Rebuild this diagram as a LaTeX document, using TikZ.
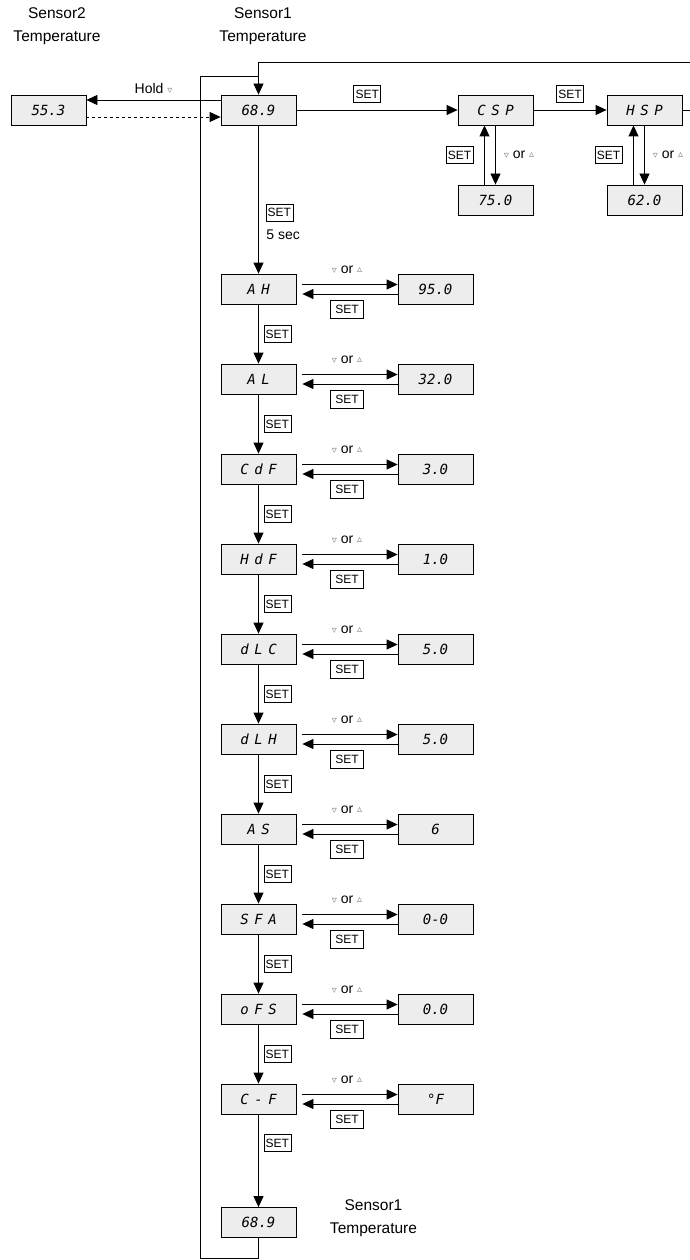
\documentclass[tikz,border=0pt]{standalone}
\usepackage{fontspec}
\setmainfont{Liberation Sans}
\newfontfamily\segfont{DejaVu Sans Mono}
\newfontfamily\segcode{DejaVu Sans Mono}[LetterSpace=40]
\newfontfamily\symfont{DejaVu Sans}
\usetikzlibrary{arrows.meta}
\usetikzlibrary{calc}
\usetikzlibrary{positioning}

\newcommand{\keydn}{{\symfont\fontsize{10}{10}\selectfont\color{gray}▿}}
\newcommand{\keyupp}{{\symfont\fontsize{10}{10}\selectfont\color{gray}\raisebox{1.5pt}{▵}}}
\newcommand{\orkeys}{\keydn\ or \keyupp}

\begin{document}
\begin{tikzpicture}[x=1pt, y=1pt, thick, node distance=90pt,
    disp/.style = {draw, fill=black!7, minimum width=75pt, minimum height=30pt, inner sep=0pt, font=\segfont\itshape\fontsize{14}{14}\selectfont},
    code/.style = {disp, font=\segcode\itshape\fontsize{14}{14}\selectfont},
    setkey/.style = {draw, fill=white, minimum width=27pt, minimum height=17pt, inner sep=0pt, font=\fontsize{12}{12}\selectfont},
    setkeyw/.style = {setkey, minimum width=33pt, minimum height=18pt},
    lbl/.style = {inner sep=1pt, font=\fontsize{14}{14}\selectfont},
    title/.style = {align=center, inner sep=0pt, font=\fontsize{15.5}{23}\selectfont},
    arr/.style = {-{Triangle[length=11pt, width=10pt]}},
    revarr/.style = {{Triangle[length=11pt, width=10pt]}-}]
    \useasboundingbox (0,0) rectangle (690,-1260);
    % titles
    \node[title] (s2t) at (57,-26.5) {Sensor2\\Temperature};
    \node[title] (s1t) at (263,-26.5) {Sensor1\\Temperature};
    \node[title] (s1b) at (373.5,-1218) {Sensor1\\Temperature};
    % top row
    \node[disp] (top) at (258.5,-110) {68.9};
    \node[disp] (s2) at (48.5,-110) {55.3};
    \node[code] (csp) at (495.5,-110) {CSP};
    \node[code] (hsp) at (644.5,-110) {HSP};
    \node[disp] (cspv) at (495.5,-200) {75.0};
    \node[disp] (hspv) at (644.5,-200) {62.0};
    % menu column
    \node[code] (ah) at (258.5,-289) {AH};
    \node[code] (al) [below of = ah] {AL};
    \node[code] (cdf) [below of = al] {CdF};
    \node[code] (hdf) [below of = cdf] {HdF};
    \node[code] (dlc) [below of = hdf] {dLC};
    \node[code] (dlh) [below of = dlc] {dLH};
    \node[code] (as) [below of = dlh] {AS};
    \node[code] (sfa) [below of = as] {SFA};
    \node[code] (ofs) [below of = sfa] {oFS};
    \node[code] (cf) [below of = ofs] {C-F};
    \node[disp] (bot) [node distance=123.5pt, below of = cf] {68.9};
    % values
    \node[disp] (ahv) [node distance=177pt, right of = ah] {95.0};
    \node[disp] (alv) [node distance=177pt, right of = al] {32.0};
    \node[disp] (cdfv) [node distance=177pt, right of = cdf] {3.0};
    \node[disp] (hdfv) [node distance=177pt, right of = hdf] {1.0};
    \node[disp] (dlcv) [node distance=177pt, right of = dlc] {5.0};
    \node[disp] (dlhv) [node distance=177pt, right of = dlh] {5.0};
    \node[disp] (asv) [node distance=177pt, right of = as] {6};
    \node[disp] (sfav) [node distance=177pt, right of = sfa] {0-0};
    \node[disp] (ofsv) [node distance=177pt, right of = ofs] {0.0};
    \node[disp] (cfv) [node distance=177pt, right of = cf] {°F};
    % hold
    \draw[arr] ([yshift=10pt]top.west) -- ([yshift=10pt]s2.east) node[lbl, midway, above=5pt] {Hold \keydn};
    \draw[arr, dashed] ([yshift=-7pt]s2.east) -- ([yshift=-7pt]top.west);
    % set points
    \draw[arr] (top) -- (csp) node[setkey, pos=.44, above=7pt] {SET};
    \draw[arr] (csp) -- (hsp) node[setkey, midway, above=7pt] {SET};
    \draw[arr] (csp) -- (cspv) node[lbl, midway, right=7pt] {\orkeys};
    \draw[arr] ([xshift=-11pt]cspv.north) -- ([xshift=-11pt]csp.south) node[setkey, midway, left=11pt] {SET};
    \draw[arr] (hsp) -- (hspv) node[lbl, midway, right=7pt] {\orkeys};
    \draw[arr] ([xshift=-11pt]hspv.north) -- ([xshift=-11pt]hsp.south) node[setkey, midway, left=11pt] {SET};
    \coordinate (loopc) at (693,-62);
    \draw[arr] (hsp.east) -| (loopc) -| (top.north);
    % menu steps
    \draw[arr] (top) -- (ah) node[setkey, pos=.59, right=7pt] {SET} node[lbl, pos=.74, right=6.5pt] {5 sec};
    \draw[arr] (ah) -- (al) node[setkey, midway, right=5pt] {SET};
    \draw[arr] (al) -- (cdf) node[setkey, midway, right=5pt] {SET};
    \draw[arr] (cdf) -- (hdf) node[setkey, midway, right=5pt] {SET};
    \draw[arr] (hdf) -- (dlc) node[setkey, midway, right=5pt] {SET};
    \draw[arr] (dlc) -- (dlh) node[setkey, midway, right=5pt] {SET};
    \draw[arr] (dlh) -- (as) node[setkey, midway, right=5pt] {SET};
    \draw[arr] (as) -- (sfa) node[setkey, midway, right=5pt] {SET};
    \draw[arr] (sfa) -- (ofs) node[setkey, midway, right=5pt] {SET};
    \draw[arr] (ofs) -- (cf) node[setkey, midway, right=5pt] {SET};
    \draw[arr] (cf) -- (bot) node[setkey, pos=.31, right=5pt] {SET};
    % value edits
    \draw[arr, shorten <=6pt] ([yshift=4.5pt]ah.east) -- ([yshift=4.5pt]ahv.west) node[lbl, midway, above=9pt] {\orkeys};
    \draw[revarr, shorten <=6pt] ([yshift=-5pt]ah.east) -- ([yshift=-5pt]ahv.west) node[setkeyw, midway, below=6pt] {SET};
    \draw[arr, shorten <=6pt] ([yshift=4.5pt]al.east) -- ([yshift=4.5pt]alv.west) node[lbl, midway, above=9pt] {\orkeys};
    \draw[revarr, shorten <=6pt] ([yshift=-5pt]al.east) -- ([yshift=-5pt]alv.west) node[setkeyw, midway, below=6pt] {SET};
    \draw[arr, shorten <=6pt] ([yshift=4.5pt]cdf.east) -- ([yshift=4.5pt]cdfv.west) node[lbl, midway, above=9pt] {\orkeys};
    \draw[revarr, shorten <=6pt] ([yshift=-5pt]cdf.east) -- ([yshift=-5pt]cdfv.west) node[setkeyw, midway, below=6pt] {SET};
    \draw[arr, shorten <=6pt] ([yshift=4.5pt]hdf.east) -- ([yshift=4.5pt]hdfv.west) node[lbl, midway, above=9pt] {\orkeys};
    \draw[revarr, shorten <=6pt] ([yshift=-5pt]hdf.east) -- ([yshift=-5pt]hdfv.west) node[setkeyw, midway, below=6pt] {SET};
    \draw[arr, shorten <=6pt] ([yshift=4.5pt]dlc.east) -- ([yshift=4.5pt]dlcv.west) node[lbl, midway, above=9pt] {\orkeys};
    \draw[revarr, shorten <=6pt] ([yshift=-5pt]dlc.east) -- ([yshift=-5pt]dlcv.west) node[setkeyw, midway, below=6pt] {SET};
    \draw[arr, shorten <=6pt] ([yshift=4.5pt]dlh.east) -- ([yshift=4.5pt]dlhv.west) node[lbl, midway, above=9pt] {\orkeys};
    \draw[revarr, shorten <=6pt] ([yshift=-5pt]dlh.east) -- ([yshift=-5pt]dlhv.west) node[setkeyw, midway, below=6pt] {SET};
    \draw[arr, shorten <=6pt] ([yshift=4.5pt]as.east) -- ([yshift=4.5pt]asv.west) node[lbl, midway, above=9pt] {\orkeys};
    \draw[revarr, shorten <=6pt] ([yshift=-5pt]as.east) -- ([yshift=-5pt]asv.west) node[setkeyw, midway, below=6pt] {SET};
    \draw[arr, shorten <=6pt] ([yshift=4.5pt]sfa.east) -- ([yshift=4.5pt]sfav.west) node[lbl, midway, above=9pt] {\orkeys};
    \draw[revarr, shorten <=6pt] ([yshift=-5pt]sfa.east) -- ([yshift=-5pt]sfav.west) node[setkeyw, midway, below=6pt] {SET};
    \draw[arr, shorten <=6pt] ([yshift=4.5pt]ofs.east) -- ([yshift=4.5pt]ofsv.west) node[lbl, midway, above=9pt] {\orkeys};
    \draw[revarr, shorten <=6pt] ([yshift=-5pt]ofs.east) -- ([yshift=-5pt]ofsv.west) node[setkeyw, midway, below=6pt] {SET};
    \draw[arr, shorten <=6pt] ([yshift=4.5pt]cf.east) -- ([yshift=4.5pt]cfv.west) node[lbl, midway, above=9pt] {\orkeys};
    \draw[revarr, shorten <=6pt] ([yshift=-5pt]cf.east) -- ([yshift=-5pt]cfv.west) node[setkeyw, midway, below=6pt] {SET};
    % loop back
    \coordinate (loopa) at (200,-1258);
    \coordinate (loopb) at (258.5,-76);
    \draw (bot.south) |- (loopa) |- (loopb);
\end{tikzpicture}
\end{document}
